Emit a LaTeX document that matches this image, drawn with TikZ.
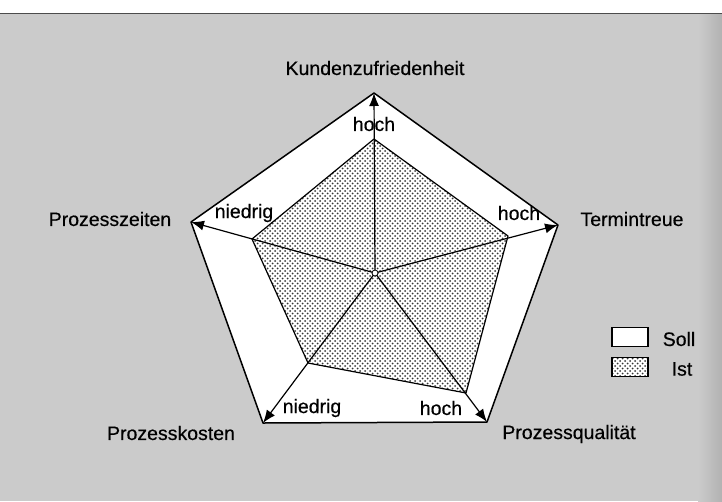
\documentclass[tikz,border=0pt]{standalone}
\usepackage{fontspec}
\setmainfont{Liberation Sans}
\newfontfamily\lblfont[FakeBold=0.4]{Liberation Sans}
\usetikzlibrary{arrows.meta,patterns}
\pgfdeclarepatternformonly{istdots}{\pgfqpoint{-1.5pt}{-1.5pt}}{\pgfqpoint{3.5pt}{3.5pt}}{\pgfqpoint{5pt}{5pt}}{%
  \pgfpathcircle{\pgfqpoint{0pt}{0pt}}{1.0pt}%
  \pgfpathcircle{\pgfqpoint{2.5pt}{2.5pt}}{1.0pt}%
  \pgfusepath{fill}}
\definecolor{bggray}{RGB}{203,203,203}
\definecolor{bgdark}{RGB}{178,178,178}
\definecolor{dotgray}{RGB}{55,55,55}
\tikzset{
  lbl/.style={font=\lblfont\fontsize{19.5}{21}\selectfont, inner sep=1pt},
  sollshape/.style={draw=black, line width=1.5pt, fill=white, line join=round},
  istshape/.style={draw=black, line width=1.2pt, pattern=istdots, pattern color=dotgray, line join=round},
  axis/.style={draw=black, line width=1.2pt, -{Latex[length=13pt,width=10pt]}},
  legbox/.style={draw=black, line width=1.2pt, minimum width=36pt, minimum height=19pt, inner sep=0pt},
}
\begin{document}
\begin{tikzpicture}[x=1pt,y=-1pt]
\useasboundingbox (0,0) rectangle (722,501);
\fill[white] (0,0) rectangle (722,501);
\fill[bggray] (0,13) rectangle (722,501);
\shade[left color=bggray, right color=bgdark] (698,13) rectangle (722,501);
\draw[line width=1.2pt, black!70] (0,13.5) -- (722,13.5);

% Soll vertices
\coordinate (ctr) at (375,273);
\coordinate (sT) at (374,93);
\coordinate (sR) at (558,225);
\coordinate (sBR) at (487,422);
\coordinate (sBL) at (263,423);
\coordinate (sL) at (191,222);
% Ist vertices
\coordinate (iT) at (374,139);
\coordinate (iR) at (508,236);
\coordinate (iBR) at (466,393);
\coordinate (iBL) at (308,363);
\coordinate (iL) at (252,239);

\path[sollshape] (sT) -- (sR) -- (sBR) -- (sBL) -- (sL) -- cycle;
\fill[white] (iT) -- (iR) -- (iBR) -- (iBL) -- (iL) -- cycle;
\path[istshape] (iT) -- (iR) -- (iBR) -- (iBL) -- (iL) -- cycle;

\draw[axis] (ctr) -- (sT);
\draw[axis] (ctr) -- (sR);
\draw[axis] (ctr) -- (sBR);
\draw[axis] (ctr) -- (sBL);
\draw[axis] (ctr) -- (sL);
\draw[black, line width=0.8pt, fill=white] (ctr) circle (3);

% scale labels
\node[lbl] (hT) at (374,124) {hoch};
\node[lbl] (nL) at (244,213) {niedrig};
\node[lbl] (hR) at (519,213) {hoch};
\node[lbl] (nBL) at (312,408) {niedrig};
\node[lbl] (hBR) at (441,408) {hoch};

% axis names
\node[lbl] (kz) at (375,68) {Kundenzufriedenheit};
\node[lbl] (pz) at (110,219) {Prozesszeiten};
\node[lbl] (tt) at (632,219) {Termintreue};
\node[lbl] (pk) at (171,433) {Prozesskosten};
\node[lbl] (pq) at (569,434) {Prozessqualität};

% legend
\node[legbox, fill=white] (legS) at (630,337) {};
\node[legbox, fill=white] (legIbg) at (630,367) {};
\node[legbox, pattern=istdots, pattern color=dotgray] (legI) at (630,367) {};
\node[lbl] (tS) at (679,339) {Soll};
\node[lbl] (tI) at (682,369) {Ist};
\end{tikzpicture}
\end{document}
